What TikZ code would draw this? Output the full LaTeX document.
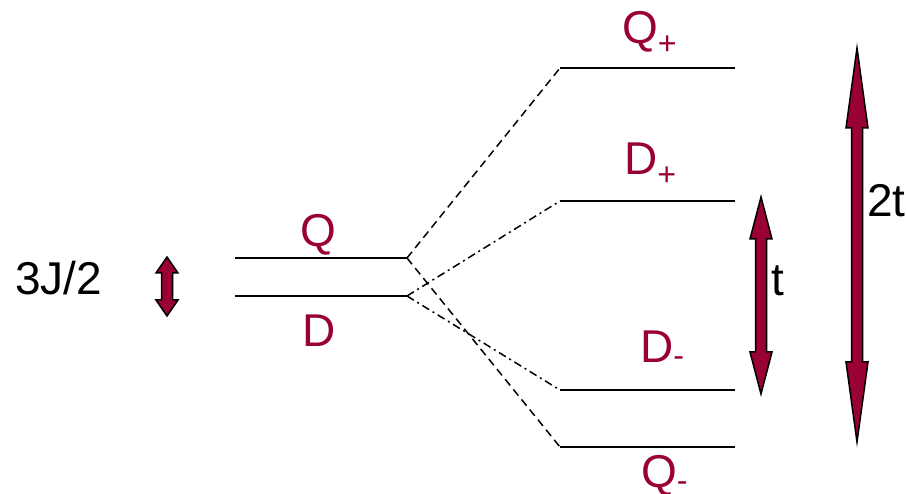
\documentclass[tikz,border=0pt]{standalone}
\usepackage{fontspec}
\setmainfont{Liberation Sans}
\usetikzlibrary{positioning,calc}
\definecolor{levelred}{RGB}{153,0,51}

% double-headed gap arrow: x, top, bottom, head length
\newcommand{\gaparrow}[4]{%
  \filldraw[gap] (#1,#2) -- (#1+11,#2+#4) -- (#1+5.5,#2+#4)
    -- (#1+5.5,#3-#4) -- (#1+11,#3-#4) -- (#1,#3)
    -- (#1-11,#3-#4) -- (#1-5.5,#3-#4) -- (#1-5.5,#2+#4)
    -- (#1-11,#2+#4) -- cycle;}

\begin{document}
\begin{tikzpicture}[
  x=1pt, y=-1pt,
  level/.style={line width=2pt},
  split/.style={line width=1.5pt, dash pattern=on 8pt off 5pt},
  splitdot/.style={line width=1.5pt, dash pattern=on 8pt off 4pt on 2pt off 4pt},
  gap/.style={fill=levelred, draw=black, line width=1.5pt, line join=miter},
  lab/.style={text=levelred, font=\fontsize{46}{50}\selectfont, inner sep=0pt, anchor=base west},
  gaplab/.style={font=\fontsize{46}{50}\selectfont, inner sep=0pt, anchor=base west}
]
\clip (0,0) rectangle (906,494);

% unsplit levels
\coordinate (Ql) at (235,258); \coordinate (Qr) at (407,258);
\coordinate (Dl) at (235,296); \coordinate (Dr) at (407,296);
% split levels
\coordinate (Qpl) at (560,68);  \coordinate (Qpr) at (735,68);
\coordinate (Dpl) at (560,201); \coordinate (Dpr) at (735,201);
\coordinate (Dml) at (560,390); \coordinate (Dmr) at (735,390);
\coordinate (Qml) at (560,447); \coordinate (Qmr) at (735,447);

\foreach \a/\b in {Ql/Qr, Dl/Dr, Qpl/Qpr, Dpl/Dpr, Dml/Dmr, Qml/Qmr}
  \draw[level] (\a) -- (\b);

\draw[split] (Qr) -- (Qpl);
\draw[split] (Qr) -- (Qml);
\draw[splitdot] (Dr) -- (Dpl);
\draw[splitdot] (Dr) -- (Dml);

% labels
\node[lab] (Q) at (300,247) {Q};
\node[lab] (D) at (302,347) {D};
\node[lab] (Qp) at (622,44) {Q\textsubscript{+}};
\node[lab] (Dp) at (624,175) {D\textsubscript{+}};
\node[lab] (Dm) at (640,363) {D\textsubscript{-}};
\node[lab] (Qm) at (641,488) {Q\textsubscript{-}};

% gaps
\gaparrow{167}{257}{316}{16}
\gaparrow{761}{197}{394}{42}
\gaparrow{857}{48}{442}{80}
\node[gaplab] (J) at (15,295) {3J/2};
\node[gaplab] (t) at (771,296) {t};
\node[gaplab] (tt) at (867,217) {2t};
\end{tikzpicture}
\end{document}
